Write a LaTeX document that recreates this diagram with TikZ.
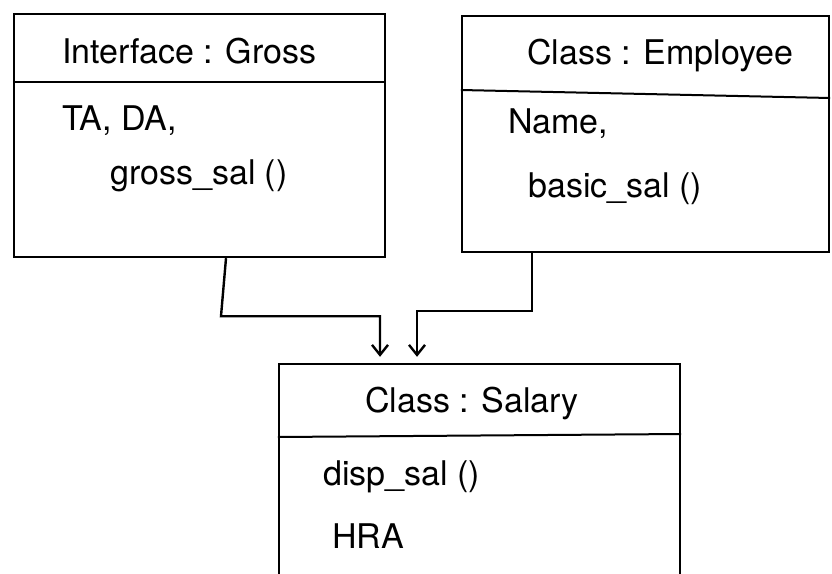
\documentclass[tikz,border=0pt]{standalone}
\usepackage{fontspec}
\setmainfont{TeX Gyre Heros}
\usetikzlibrary{arrows.meta,calc}
\begin{document}
\begin{tikzpicture}[x=1pt,y=-1pt,
  box/.style={draw,line width=2.4pt,rectangle,inner sep=0pt},
  divider/.style={line width=2pt},
  lbl/.style={anchor=base west,inner sep=0pt,font=\fontsize{34}{40}\selectfont},
  conn/.style={line width=2.4pt,-{Straight Barb[length=10pt,width=16pt,line width=2.4pt]},shorten >=6pt}]
\path[use as bounding box,clip] (0,0) rectangle (832,573);
\fill[white] (0,0) rectangle (832,573);
% boxes
\node[box,minimum width=371pt,minimum height=243pt] (gross) at (199.5,135.5) {};
\node[box,minimum width=367pt,minimum height=236pt] (emp) at (645.5,134) {};
\node[box,minimum width=401pt,minimum height=260pt] (sal) at (479.5,494) {};
% dividers
\draw[divider] (gross.west |- 0,82) -- (gross.east |- 0,82);
\draw[divider] (emp.west |- 0,90) -- (emp.east |- 0,98);
\draw[divider] (sal.west |- 0,437) -- (sal.east |- 0,434);
% texts
\node[lbl] (t1) at (62,63) {Interface : Gross};
\node[lbl] (t2) at (62,130) {TA, DA,};
\node[lbl] (t3) at (110,184) {gross\_sal ()};
\node[lbl] (t4) at (527,64) {Class : Employee};
\node[lbl] (t5) at (508,133) {Name,};
\node[lbl] (t6) at (528,197) {basic\_sal ()};
\node[lbl] (t7) at (365,412) {Class : Salary};
\node[lbl] (t8) at (323,485) {disp\_sal ()};
\node[lbl] (t9) at (332,548) {HRA};
% connectors
\draw[conn] ([xshift=26.5pt]gross.south) -- ++(-5,58) -| ([xshift=-99.5pt]sal.north);
\draw[conn] ([xshift=-113.5pt]emp.south) -- ++(0,58) -| ([xshift=-62.5pt]sal.north);
\end{tikzpicture}
\end{document}
